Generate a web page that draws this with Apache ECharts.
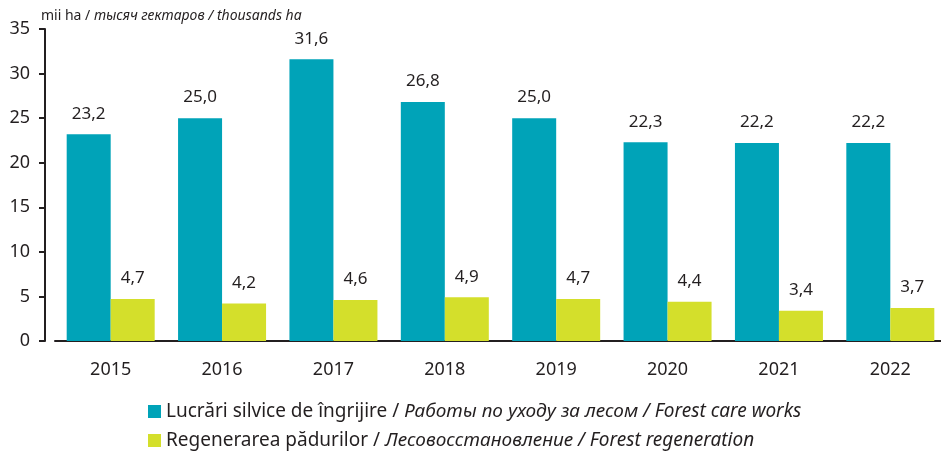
<!DOCTYPE html>
<html lang="ro">
<head>
  <meta charset="UTF-8">
  <title>Lucrări silvice</title>
  <script src="https://cdn.jsdelivr.net/npm/echarts@6/dist/echarts.min.js"></script>
  <style>
    html, body { margin: 0; padding: 0; background: #fff; overflow: hidden; }
  </style>
</head>
<body>
<!-- graficul original trece puțin peste marginea dreaptă -->
<div id="main" style="width:947px;height:452px;"></div>
<script>
  // date
  var years = ['2015', '2016', '2017', '2018', '2019', '2020', '2021', '2022'];
  var careWorks = [23.2, 25.0, 31.6, 26.8, 25.0, 22.3, 22.2, 22.2];
  var regeneration = [4.7, 4.2, 4.6, 4.9, 4.7, 4.4, 3.4, 3.7];
  var seriesNames = [
    'Lucrări silvice de îngrijire / {i|Работы по уходу за лесом / Forest care works}',
    'Regenerarea pădurilor / {i|Лесовосстановление / Forest regeneration}'
  ];

  var FONT = 'Noto Sans';
  var INK = '#231f20';

  function comma(p) {
    return p.value.toFixed(1).replace('.', ',');
  }

  var chart = echarts.init(document.getElementById('main'));
  chart.setOption({
    animation: false,
    textStyle: { fontFamily: FONT, color: INK },
    title: {
      text: 'mii ha / {i|тысяч гектаров / thousands ha}',
      left: 36,
      top: 4,
      textStyle: {
        fontFamily: FONT, fontSize: 14, fontWeight: 'normal', color: INK,
        rich: { i: { fontFamily: FONT, fontSize: 14, fontStyle: 'italic', color: INK } }
      }
    },
    legend: {
      orient: 'vertical',
      left: 148,
      top: 402,
      padding: 0,
      itemWidth: 13,
      itemHeight: 13,
      itemGap: 10,
      icon: 'rect',
      textStyle: {
        fontFamily: FONT, fontSize: 19, color: INK,
        rich: { i: { fontFamily: FONT, fontSize: 19, fontStyle: 'italic', color: INK } }
      }
    },
    grid: { left: 55, top: 29, width: 891, height: 312 },
    xAxis: {
      type: 'category',
      data: years,
      axisLine: { lineStyle: { color: INK, width: 2 } },
      axisTick: { length: 6, lineStyle: { color: INK, width: 2 } },
      axisLabel: { fontSize: 18, color: INK, margin: 20 }
    },
    yAxis: {
      type: 'value',
      min: 0,
      max: 35,
      interval: 5,
      offset: 10,
      splitLine: { show: false },
      axisLine: { show: true, lineStyle: { color: INK, width: 2 } },
      axisTick: { show: true, length: 6, lineStyle: { color: INK, width: 2 } },
      axisLabel: { fontSize: 18, color: INK, margin: 15 }
    },
    series: [
      {
        name: seriesNames[0],
        type: 'bar',
        data: careWorks,
        barWidth: 44,
        barGap: '0%',
        itemStyle: { color: '#00a3b8' },
        label: { show: true, position: 'top', distance: 12, fontSize: 17, color: INK, formatter: comma }
      },
      {
        name: seriesNames[1],
        type: 'bar',
        data: regeneration,
        barWidth: 44,
        barGap: '0%',
        itemStyle: { color: '#d4df2b' },
        label: { show: true, position: 'top', distance: 12, fontSize: 17, color: INK, formatter: comma }
      }
    ]
  });
</script>
</body>
</html>
